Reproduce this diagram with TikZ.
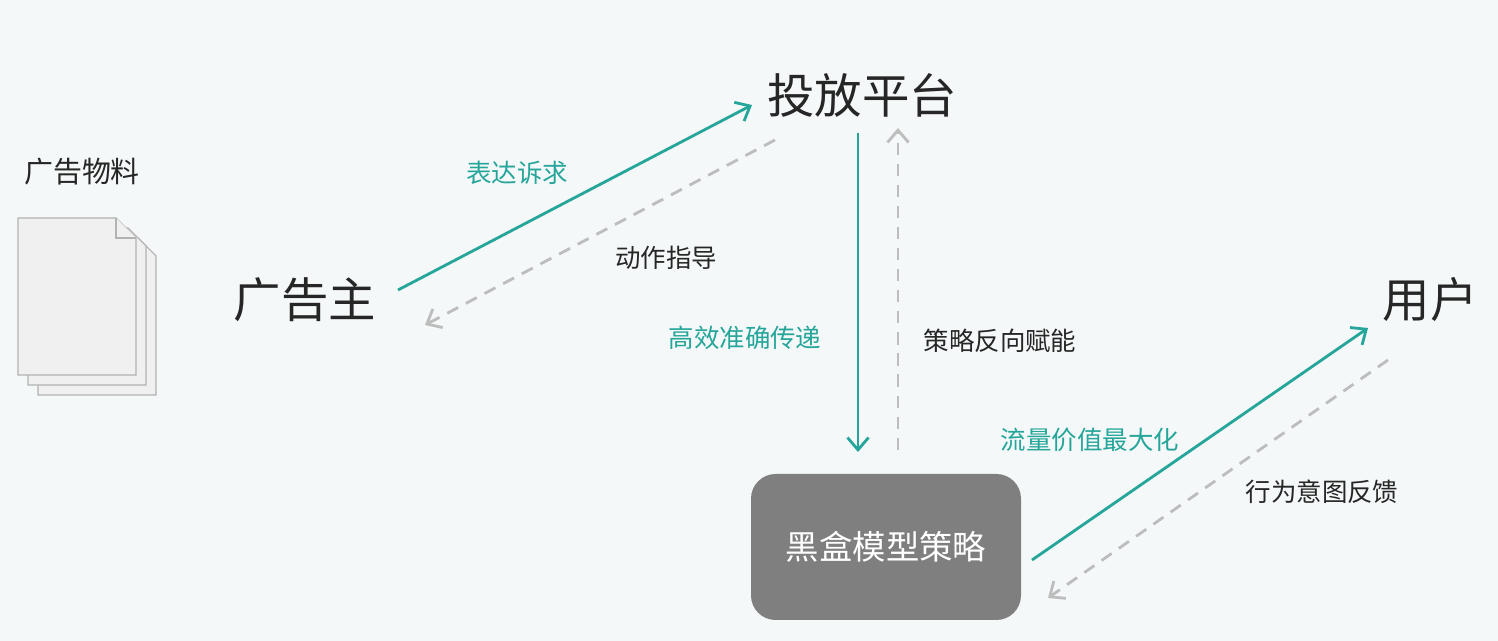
\documentclass[tikz,border=0pt]{standalone}
\usepackage{fontspec}
\setmainfont{Noto Sans CJK SC}
\usetikzlibrary{arrows.meta}
\definecolor{bg}{HTML}{F4F8F8}
\definecolor{teal}{HTML}{26A69A}
\definecolor{dgrey}{HTML}{BDBDBD}
\definecolor{boxg}{HTML}{7F7F7F}
\tikzset{
 P/.style={x=0.02cm,y=-0.02cm},
 solidarr/.style={draw=teal,line width=1.6pt,-{Straight Barb[length=7pt,width=12pt]}},
 dasharr/.style={draw=dgrey,line width=1.6pt,dashed,dash pattern=on 7pt off 5pt,-{Straight Barb[length=7pt,width=12pt]}},
 big/.style={font=\fontsize{27}{30}\selectfont,text=black!85},
 lab/.style={font=\fontsize{14.5}{16}\selectfont},
 page/.style={draw=black!30,fill=black!6,line width=0.6pt}
}
\begin{document}
\begin{tikzpicture}[P]
\fill[bg] (0,0) rectangle (1498,641);
\useasboundingbox (0,0) rectangle (1498,641);
% document icon
\draw[page] (38,238) -- (138,238) -- (156,256) -- (156,395) -- (38,395) -- cycle;
\draw[page] (28,228) -- (128,228) -- (146,246) -- (146,385) -- (28,385) -- cycle;
\draw[page] (18,218) -- (116,218) -- (136,238) -- (136,375) -- (18,375) -- cycle;
\draw[page] (116,218) -- (116,238) -- (136,238);
\node[lab,font=\fontsize{16.5}{18}\selectfont,text=black!85] (wl) at (82,172) {广告物料};
\node[big] (adv) at (305,300) {广告主};
\node[big] (plat) at (862,95) {投放平台};
\node[big] (user) at (1430,300) {用户};
\node[draw=none,fill=boxg,rounded corners=14pt,minimum width=270\pgflinewidth,inner sep=0pt] (box) at (886,547) {};
\fill[boxg,rounded corners=14pt] (751,474) rectangle (1021,620);
\node[text=white,font=\fontsize{19}{21}\selectfont] (bt) at (886,547) {黑盒模型策略};
\coordinate (a1) at (398,290); \coordinate (a2) at (752,105);
\coordinate (b1) at (775,140); \coordinate (b2) at (425,325);
\coordinate (c1) at (858,133); \coordinate (c2) at (858,452);
\coordinate (d1) at (898,450); \coordinate (d2) at (898,128);
\coordinate (e1) at (1032,560); \coordinate (e2) at (1368,328);
\coordinate (f1) at (1388,360); \coordinate (f2) at (1048,598);
\draw[solidarr] (a1) -- (a2);
\draw[dasharr] (b1) -- (b2);
\draw[solidarr] (c1) -- (c2);
\draw[dasharr] (d1) -- (d2);
\draw[solidarr] (e1) -- (e2);
\draw[dasharr] (f1) -- (f2);
\node[lab,text=teal] (l1) at (517,173) {表达诉求};
\node[lab,text=black!85] (l2) at (666,258) {动作指导};
\node[lab,text=teal] (l3) at (745,338) {高效准确传递};
\node[lab,text=black!85] (l4) at (1000,341) {策略反向赋能};
\node[lab,text=teal] (l5) at (1090,440) {流量价值最大化};
\node[lab,text=black!85] (l6) at (1322,492) {行为意图反馈};
\end{tikzpicture}
\end{document}
